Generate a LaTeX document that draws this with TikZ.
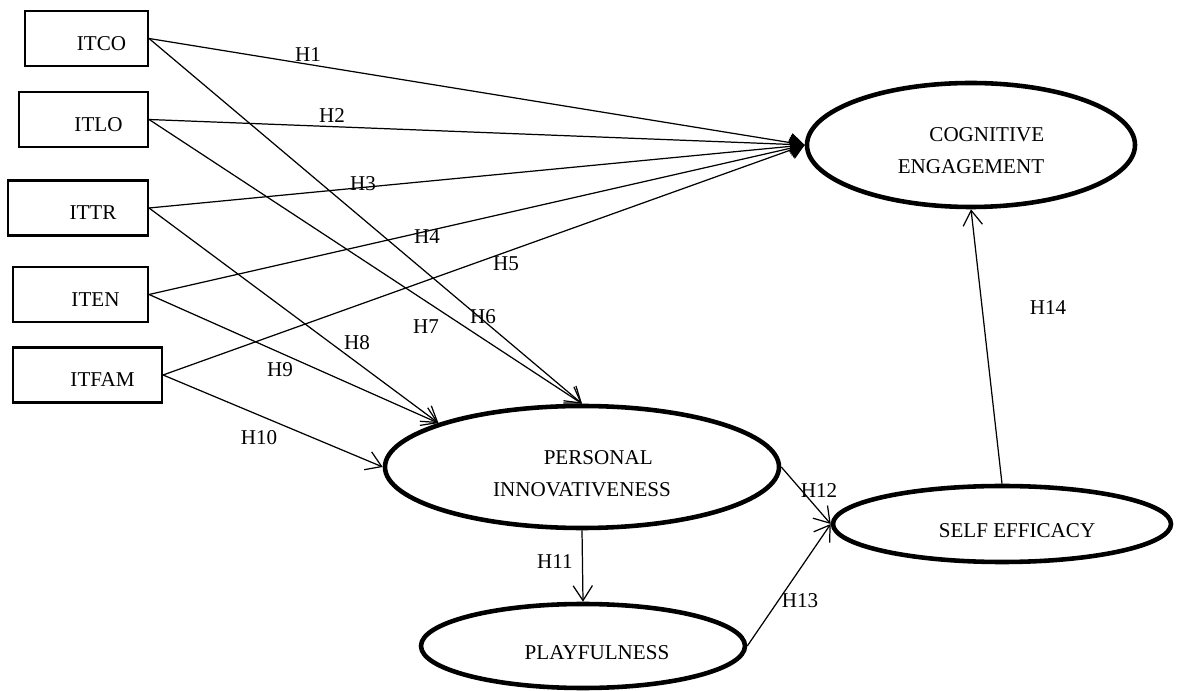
\documentclass[tikz,border=0pt]{standalone}
\usepackage{fontspec}
\setmainfont{Liberation Serif}
\usetikzlibrary{shapes.geometric,arrows.meta}
\tikzset{
  construct/.style={draw, line width=1.2pt, minimum height=1.1cm, inner sep=0pt, text height=0.48cm, text depth=0pt},
  latent/.style={draw, ellipse, line width=2.6pt, inner sep=0pt, align=center},
  hyparrow/.style={line width=0.7pt, -{Straight Barb[length=8.5pt,width=11pt]}},
  cearrow/.style={line width=0.7pt, -{Triangle[length=8pt,width=11pt]}}
}
\begin{document}
\begin{tikzpicture}[font=\fontsize{12}{18}\selectfont]
\useasboundingbox (0,0) rectangle (23.62,13.8);
% predictors
\node[construct, minimum width=2.46cm] (itco) at (1.73,13.03) {\hspace*{.6cm}ITCO};
\node[construct, minimum width=2.58cm] (itlo) at (1.67,11.41) {\hspace*{.6cm}ITLO};
\node[construct, minimum width=2.80cm] (ittr) at (1.56,9.64) {\hspace*{.6cm}ITTR};
\node[construct, minimum width=2.70cm] (iten) at (1.61,7.91) {\hspace*{.6cm}ITEN};
\node[construct, minimum width=2.98cm] (itfam) at (1.75,6.30) {\hspace*{.6cm}ITFAM};
% latent variables
\node[latent, minimum width=6.56cm, minimum height=2.48cm, align=right, text height=32pt, text depth=0pt] (ce) at (19.42,10.90) {COGNITIVE\\ENGAGEMENT};
\node[latent, minimum width=7.88cm, minimum height=2.44cm, text height=33.3pt, text depth=0pt] (pi) at (11.64,4.46) {\hspace*{.65cm}PERSONAL\\INNOVATIVENESS};
\node[latent, minimum width=6.48cm, minimum height=1.68cm, text height=0.52cm, text depth=0pt] (play) at (11.66,0.88) {\hspace*{.56cm}PLAYFULNESS};
\node[latent, minimum width=6.76cm, minimum height=1.52cm, text height=0.56cm, text depth=0pt] (se) at (20.04,3.32) {\hspace*{.6cm}SELF EFFICACY};
% paths to cognitive engagement
\draw[cearrow] (itco.east) -- (ce.west);
\draw[cearrow] (itlo.east) -- (ce.west);
\draw[cearrow] (ittr.east) -- (ce.west);
\draw[cearrow] (iten.east) -- (ce.west);
\draw[cearrow] (itfam.east) -- (ce.west);
% paths to personal innovativeness
\draw[hyparrow] (itco.east) -- (pi.north);
\draw[hyparrow] (itlo.east) -- (pi.north);
\draw[hyparrow] (ittr.east) -- (pi.163);
\draw[hyparrow] (iten.east) -- (pi.163);
\draw[hyparrow] (itfam.east) -- (pi.west);
% remaining paths
\draw[hyparrow] (pi.south) -- (play.north);
\draw[hyparrow] (pi.east) -- (se.west);
\draw[hyparrow] (play.east) -- (se.west);
\draw[hyparrow] (se.north) -- (ce.south);
% hypotheses
\node (h1) at (6.16,12.70) {H1};
\node (h2) at (6.64,11.48) {H2};
\node (h3) at (7.26,10.12) {H3};
\node (h4) at (8.54,9.06) {H4};
\node (h5) at (10.12,8.52) {H5};
\node (h6) at (9.66,7.46) {H6};
\node (h7) at (8.52,7.26) {H7};
\node (h8) at (7.14,6.94) {H8};
\node (h9) at (5.60,6.40) {H9};
\node (h10) at (5.18,5.04) {H10};
\node (h11) at (11.10,2.56) {H11};
\node (h12) at (16.38,3.98) {H12};
\node (h13) at (16.00,1.78) {H13};
\node (h14) at (20.96,7.64) {H14};
\end{tikzpicture}
\end{document}
